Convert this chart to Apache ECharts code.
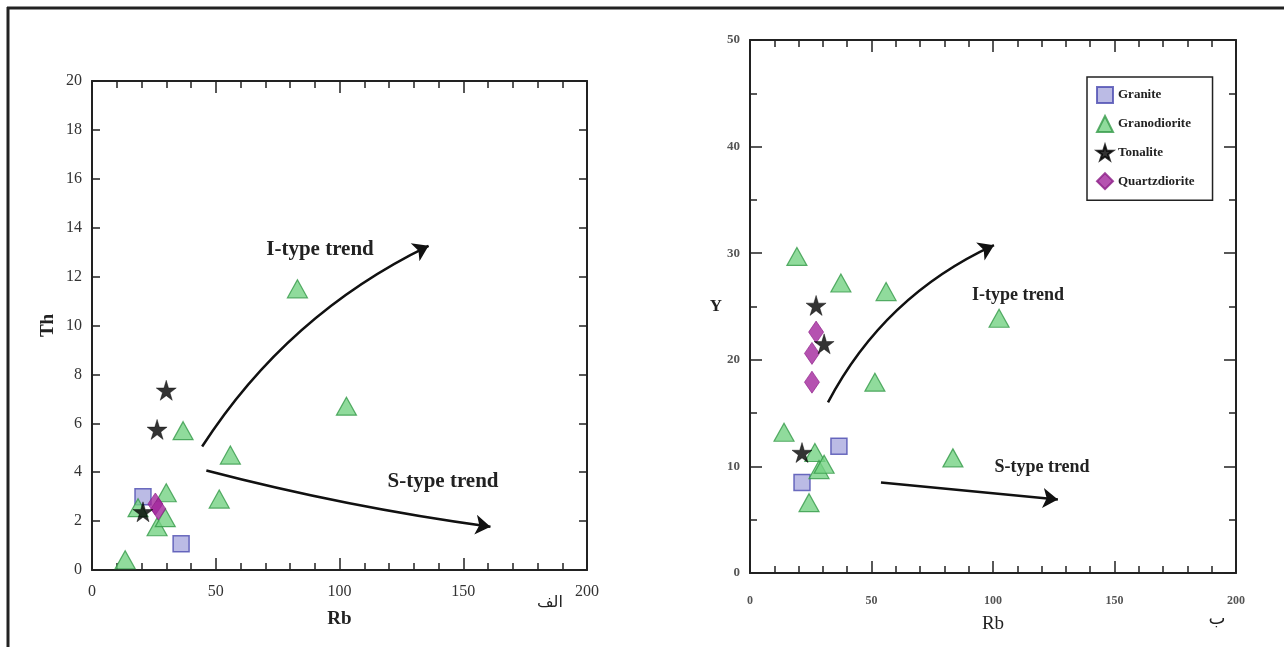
<!DOCTYPE html>
<html>
<head>
<meta charset="utf-8">
<script src="https://cdn.jsdelivr.net/npm/echarts@6/dist/echarts.min.js"></script>
<style>
	html, body { margin: 0; padding: 0; background: #fff; }
	#chart { width: 1284px; height: 647px; }
</style>
</head>
<body>
<div id="chart"></div>
<script>
	// 左图 Rb - Th，每个点为 [Rb, Th]
	var thGranite = [[20.6, 3.0], [36.0, 1.07]];
	var thGranodiorite = [[13.4, 0.42], [18.6, 2.55], [26.3, 1.77], [29.6, 2.14], [30.0, 3.16],
		[36.8, 5.7], [51.4, 2.9], [55.9, 4.7], [83.0, 11.5], [102.8, 6.7]];
	var thTonalite = [[20.6, 2.38], [26.3, 5.75], [30.0, 7.35]];
	var thQuartzdiorite = [[25.6, 2.7], [26.8, 2.5]];

	// 右图 Rb - Y，每个点为 [Rb, Y]
	var yGranite = [[21.4, 8.5], [36.6, 11.9]];
	var yGranodiorite = [[14.0, 13.2], [19.3, 29.7], [24.3, 6.6], [26.7, 11.3], [28.4, 9.7],
		[30.5, 10.2], [37.4, 27.2], [51.4, 17.9], [56.0, 26.4], [83.5, 10.8], [102.5, 23.9]];
	var yTonalite = [[21.4, 11.3], [27.2, 25.1], [30.5, 21.5]];
	var yQuartzdiorite = [[25.5, 17.9], [25.5, 20.6], [27.2, 22.6]];

	// 趋势箭头 [起点, 终点]
	var thIType = [[44.5, 5.05], [136, 13.26]];
	var thSType = [[46.2, 4.07], [161, 1.77]];
	var yIType = [[32.1, 16.0], [100.4, 30.75]];
	var ySType = [[53.9, 8.5], [126.7, 6.9]];

	var groups = ["Granite", "Granodiorite", "Tonalite", "Quartzdiorite"];

	var serif = "Liberation Serif";
	var starPath = "path://M50,0 L61,35 L98,35 L68,57 L79,91 L50,70 L21,91 L32,57 L2,35 L39,35 Z";

	var styles = {
		Granite: { symbol: "rect", size: 16, z: 2, item: { color: "#aaaadf", borderColor: "#4b4bb0", borderWidth: 1.5 } },
		Granodiorite: { symbol: "triangle", size: [20, 18], z: 2, item: { color: "#74d283", borderColor: "#349a48", borderWidth: 1.2 } },
		Tonalite: { symbol: starPath, size: 20, z: 5, item: { color: "#000", borderColor: "#000", borderWidth: 0.5 } },
		Quartzdiorite: { symbol: "diamond", size: [15, 22], z: 4, item: { color: "#a3279c", borderColor: "#8b1d86", borderWidth: 0.8 } }
	};

	// 用 lines 系列画弯曲的趋势箭头
	function arrowSeries(grid, pts, curve) {
		return {
			type: "lines",
			coordinateSystem: "cartesian2d",
			xAxisIndex: grid * 2,
			yAxisIndex: grid * 2,
			silent: true,
			symbol: ["none", "arrow"],
			symbolSize: [11, 15],
			z: 6,
			lineStyle: { color: "#111", width: 2.5, opacity: 1, curveness: curve },
			data: [{ coords: pts }]
		};
	}

	function makeSeries(grid, list, arrows) {
		var series = [];
		for (let i = 0; i < groups.length; i++) {
			let st = styles[groups[i]];
			series.push({
				name: groups[i],
				type: "scatter",
				xAxisIndex: grid * 2,
				yAxisIndex: grid * 2,
				symbol: st.symbol,
				symbolSize: st.size,
				z: st.z,
				itemStyle: st.item,
				data: list[i]
			});
		}
		series.push(arrowSeries(grid, arrows[0], arrows[1]));
		series.push(arrowSeries(grid, arrows[2], arrows[3]));
		return series;
	}

	function xAxes(grid, label, name, nameStyle, gap) {
		var base = {
			gridIndex: grid,
			type: "value",
			min: 0,
			max: 200,
			interval: 50,
			axisLine: { onZero: false, lineStyle: { color: "#222", width: 2 } },
			axisTick: { inside: true, length: 12, lineStyle: { color: "#222", width: 1.5 } },
			minorTick: { show: true, splitNumber: 5, length: 7, lineStyle: { color: "#222", width: 1.5 } },
			splitLine: { show: false },
			minorSplitLine: { show: false }
		};
		var bottom = Object.assign({}, base, {
			position: "bottom",
			axisLabel: label,
			name: name,
			nameLocation: "middle",
			nameGap: gap,
			nameTextStyle: nameStyle
		});
		var top = Object.assign({}, base, { position: "top", axisLabel: { show: false } });
		return [bottom, top];
	}

	function yAxes(grid, max, interval, minor, majorLen, label, name, nameStyle, gap, rotate) {
		var base = {
			gridIndex: grid,
			type: "value",
			min: 0,
			max: max,
			interval: interval,
			axisLine: { onZero: false, lineStyle: { color: "#222", width: 2 } },
			axisTick: { inside: true, length: majorLen, lineStyle: { color: "#222", width: 1.5 } },
			minorTick: { show: minor > 1, splitNumber: minor, length: 7, lineStyle: { color: "#222", width: 1.5 } },
			splitLine: { show: false },
			minorSplitLine: { show: false }
		};
		var left = Object.assign({}, base, {
			position: "left",
			axisLabel: label,
			name: name,
			nameLocation: "middle",
			nameGap: gap,
			nameRotate: rotate,
			nameTextStyle: nameStyle
		});
		var right = Object.assign({}, base, { position: "right", axisLabel: { show: false } });
		return [left, right];
	}

	var leftXLabel = { fontFamily: serif, fontSize: 16, color: "#333", margin: 14 };
	var leftYLabel = { fontFamily: serif, fontSize: 16, color: "#333", margin: 10 };
	var rightLabel = { fontFamily: serif, fontSize: 12, fontWeight: "bold", color: "#555", margin: 22 };
	var rightYLabel = { fontFamily: serif, fontSize: 13, fontWeight: "bold", color: "#555", margin: 10 };

	var option = {
		backgroundColor: "#fff",
		animation: false,
		grid: [
			{ left: 92, right: 697, top: 81, bottom: 77 },
			{ left: 750, right: 48, top: 40, bottom: 74 }
		],
		legend: {
			data: groups,
			orient: "vertical",
			left: 1087,
			top: 77,
			padding: [9, 18, 10, 9],
			itemGap: 11,
			itemWidth: 16,
			itemHeight: 16,
			borderColor: "#222",
			borderWidth: 1.5,
			textStyle: { fontFamily: serif, fontWeight: "bold", fontSize: 13, color: "#222" }
		},
		xAxis: xAxes(0, leftXLabel, "Rb", { fontFamily: serif, fontWeight: "bold", fontSize: 19, color: "#222" }, 40)
			.concat(xAxes(1, rightLabel, "Rb", { fontFamily: serif, fontSize: 19, color: "#222" }, 42)),
		yAxis: yAxes(0, 20, 2, 1, 8, leftYLabel, "Th", { fontFamily: serif, fontWeight: "bold", fontSize: 19, color: "#222" }, 34, 90)
			.concat(yAxes(1, 50, 10, 2, 12, rightYLabel, "Y", { fontFamily: serif, fontWeight: "bold", fontSize: 17, color: "#222" }, 26, 0)),
		graphic: [
			{ type: "line", shape: { x1: 7, y1: 8, x2: 1284, y2: 8 }, style: { stroke: "#222", lineWidth: 3 } },
			{ type: "line", shape: { x1: 8, y1: 7, x2: 8, y2: 647 }, style: { stroke: "#222", lineWidth: 3 } },
			{ type: "text", x: 320, y: 250, style: { text: "I-type trend", fontFamily: serif, fontWeight: "bold", fontSize: 21, fill: "#222", textAlign: "center", textVerticalAlign: "middle" } },
			{ type: "text", x: 443, y: 482, style: { text: "S-type trend", fontFamily: serif, fontWeight: "bold", fontSize: 21, fill: "#222", textAlign: "center", textVerticalAlign: "middle" } },
			{ type: "text", x: 1018, y: 295, style: { text: "I-type trend", fontFamily: serif, fontWeight: "bold", fontSize: 18, fill: "#222", textAlign: "center", textVerticalAlign: "middle" } },
			{ type: "text", x: 1042, y: 467, style: { text: "S-type trend", fontFamily: serif, fontWeight: "bold", fontSize: 18, fill: "#222", textAlign: "center", textVerticalAlign: "middle" } },
			{ type: "text", x: 550, y: 603, style: { text: "الف", fontFamily: "DejaVu Sans", fontSize: 16, fill: "#222", textAlign: "center", textVerticalAlign: "middle" } },
			{ type: "text", x: 1217, y: 619, style: { text: "ب", fontFamily: "DejaVu Sans", fontSize: 18, fill: "#222", textAlign: "center", textVerticalAlign: "middle" } }
		],
		series: makeSeries(0, [thGranite, thGranodiorite, thTonalite, thQuartzdiorite], [thIType, 0.14, thSType, -0.03])
			.concat(makeSeries(1, [yGranite, yGranodiorite, yTonalite, yQuartzdiorite], [yIType, 0.17, ySType, 0]))
	};

	let myChart = echarts.init(document.getElementById("chart"));
	myChart.setOption(option);
</script>
</body>
</html>
